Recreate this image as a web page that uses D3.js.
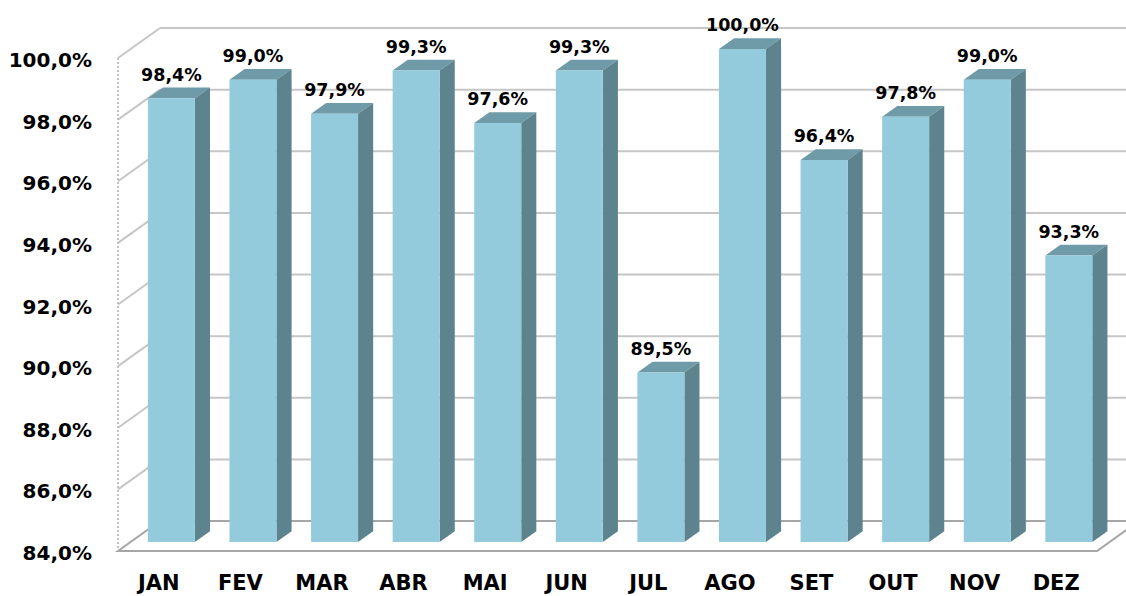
<!DOCTYPE html>
<html lang="pt">
<head>
<meta charset="UTF-8">
<title>Indicador mensal</title>
<script src="https://cdn.jsdelivr.net/npm/d3@7"></script>
<style>
    html, body { margin: 0; padding: 0; background: #fff; }
    svg text { font-family: "DejaVu Sans", sans-serif; font-weight: bold; fill: #000; }
</style>
</head>
<body>
<svg id="chart" width="1126" height="596"></svg>
<script>
    // dados
    var months = ["JAN", "FEV", "MAR", "ABR", "MAI", "JUN", "JUL", "AGO", "SET", "OUT", "NOV", "DEZ"];
    var values = [98.4, 99.0, 97.9, 99.3, 97.6, 99.3, 89.5, 100.0, 96.4, 97.8, 99.0, 93.3];
    var yTicks = [84, 86, 88, 90, 92, 94, 96, 98, 100];

    var svg = d3.select("#chart");
    var fmt = function (v) { return v.toFixed(1).replace(".", ",") + "%"; };

    /* plano frontal + profundidade */
    var left = 118, right = 1097;
    var DX = 42, DY = 30;          // deslocamento da parede do fundo
    var z0 = 0.3, z1 = 0.66;       // profundidade das barras

    var y = d3.scaleLinear().domain([84, 100]).range([551, 58]);
    var x = d3.scaleBand().domain(months).range([left, right])
        .paddingInner(0.424).paddingOuter(0.212);

    function P(px, v, z) { return [px + z * DX, y(v) - z * DY]; }
    function poly(pts) { return pts.map(function (p) { return p.join(","); }).join(" "); }

    /* chão */
    svg.append("polygon")
        .attr("points", poly([P(left, 84, 0), P(right, 84, 0), P(right, 84, 1), P(left, 84, 1)]))
        .attr("fill", "#fff")
        .attr("stroke", "#a6a6a6")
        .attr("stroke-width", 2);

    /* grelha: parede do fundo e parede lateral */
    var grid = svg.append("g").attr("stroke", "#c6c6c6").attr("stroke-width", 2).attr("fill", "none");
    grid.selectAll(".back").data(yTicks.slice(1)).enter().append("line")
        .attr("x1", function (d) { return P(left, d, 1)[0]; })
        .attr("y1", function (d) { return P(left, d, 1)[1]; })
        .attr("x2", function (d) { return P(right, d, 1)[0]; })
        .attr("y2", function (d) { return P(right, d, 1)[1]; });
    grid.selectAll(".side").data(yTicks.slice(1)).enter().append("line")
        .attr("x1", function (d) { return P(left, d, 0)[0]; })
        .attr("y1", function (d) { return P(left, d, 0)[1]; })
        .attr("x2", function (d) { return P(left, d, 1)[0]; })
        .attr("y2", function (d) { return P(left, d, 1)[1]; });

    svg.append("line")
        .attr("x1", left).attr("x2", left)
        .attr("y1", y(100)).attr("y2", y(84))
        .attr("stroke", "#b0b0b0")
        .attr("stroke-width", 1.5)
        .attr("stroke-dasharray", "2,2");

    /* eixo y */
    svg.append("g").selectAll("text").data(yTicks).enter().append("text")
        .attr("x", 92)
        .attr("y", function (d) { return y(d) + 2; })
        .attr("dy", "0.35em")
        .attr("text-anchor", "end")
        .style("font-size", "20px")
        .text(fmt);

    /* barras 3D */
    var bars = svg.append("g").selectAll("g").data(months).enter().append("g");
    bars.each(function (m, i) {
        var g = d3.select(this);
        var x0 = x(m), x1 = x(m) + x.bandwidth(), v = values[i];
        g.append("polygon")   // topo
            .attr("points", poly([P(x0, v, z0), P(x1, v, z0), P(x1, v, z1), P(x0, v, z1)]))
            .attr("fill", "#6e9ba7");
        g.append("polygon")   // lado
            .attr("points", poly([P(x1, 84, z0), P(x1, v, z0), P(x1, v, z1), P(x1, 84, z1)]))
            .attr("fill", "#5d848e");
        g.append("polygon")   // frente
            .attr("points", poly([P(x0, 84, z0), P(x1, 84, z0), P(x1, v, z0), P(x0, v, z0)]))
            .attr("fill", "#93cbdc");
        g.append("text")
            .attr("x", P(x0 + x.bandwidth() / 2, v, z0)[0])
            .attr("y", P(x0, v, z1)[1] - 7)
            .attr("text-anchor", "middle")
            .style("font-size", "17.5px")
            .text(fmt(v));
    });

    /* eixo x */
    svg.append("g").selectAll("text").data(months).enter().append("text")
        .attr("x", function (d) { return x(d) + x.bandwidth() / 2; })
        .attr("y", 590)
        .attr("text-anchor", "middle")
        .style("font-size", "21px")
        .text(function (d) { return d; });
</script>
</body>
</html>
